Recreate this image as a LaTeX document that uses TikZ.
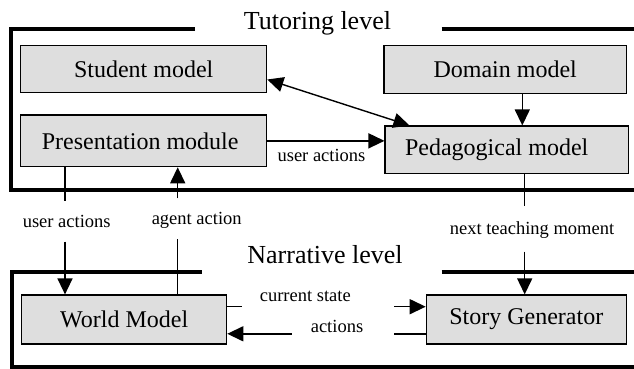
\documentclass[tikz,border=0pt]{standalone}
\usepackage{fontspec}
\setmainfont{Liberation Serif}
\usetikzlibrary{arrows.meta,calc}
\definecolor{boxgray}{RGB}{222,222,222}
\tikzset{
  box/.style={draw=black, fill=boxgray, line width=1.2pt, inner sep=0pt,
    font=\fontsize{24}{24}\selectfont},
  frame/.style={line width=4pt},
  lbl/.style={font=\fontsize{18.5}{18.5}\selectfont, inner sep=0pt},
  ttl/.style={font=\fontsize{26}{26}\selectfont, inner sep=0pt, anchor=base},
  conn/.style={line width=1.4pt},
  arr/.style={conn, -{Triangle[length=16pt,width=15pt]}},
  darr/.style={conn, {Triangle[length=16pt,width=15pt]}-{Triangle[length=16pt,width=15pt]}}
}
\begin{document}
\begin{tikzpicture}[x=1pt,y=-1pt]
\useasboundingbox (0,0) rectangle (634,369);
% frames
\draw[frame] (195,29.5) -- (11,29.5) -- (11,190) -- (640,190);
\draw[frame] (441.7,29.5) -- (640,29.5);
\draw[frame] (201.7,271.7) -- (12,271.7) -- (12,367.3) -- (640,367.3);
\draw[frame] (441.7,271.7) -- (640,271.7);
\node[ttl] (tt) at (317.5,30) {Tutoring level};
\node[ttl] (nt) at (325,263.3) {Narrative level};
% boxes
\node[box, minimum width=246pt, minimum height=46.6pt] (stud) at (143.7,69) {Student model};
\node[box, minimum width=246pt, minimum height=51.7pt] (pres) at (143.7,140.85) {Presentation module\kern7pt};
\node[box, minimum width=242.3pt, minimum height=47.6pt] (dom) at (505.2,69.5) {Domain model};
\node[box, minimum width=243.3pt, minimum height=47.3pt] (ped) at (506.7,149.7) {Pedagogical model\kern20pt};
\node[box, minimum width=205pt, minimum height=49pt] (world) at (124.2,319.5) {World Model};
\node[box, minimum width=200pt, minimum height=49pt] (story) at (526.3,319.5) {Story Generator};
% labels
\node[lbl] (l1) at (321.5,155) {user actions};
\node[lbl] (l2) at (66.7,221.7) {user actions};
\node[lbl] (l3) at (196.7,220) {agent action};
\node[lbl] (l4) at (532,230) {next teaching moment};
\node[lbl] (l5) at (305.3,296.7) {current state};
\node[lbl] (l6) at (337,326.7) {actions};
% connectors
\draw[darr] ($(stud.east)+(0,10.5)$) -- ($(ped.north west)+(25,0)$);
\coordinate (dp) at ($(dom.south)+(17.1,0)$);
\draw[arr] (dp) -- (dp |- ped.north);
\draw[arr] (pres.east) -- (pres.east -| ped.west);
\coordinate (ua1) at (65,200.7);
\coordinate (ua2) at (65,241.7);
\draw[conn] (pres.south -| ua1) -- (ua1);
\draw[arr] (ua2) -- (ua2 |- world.north);
\coordinate (aa1) at (177.7,239.3);
\coordinate (aa2) at (177.7,198.3);
\draw[conn] (world.north -| aa1) -- (aa1);
\draw[arr] (aa2) -- (aa2 |- pres.south);
\coordinate (nt1) at (524.7,206);
\coordinate (nt2) at (524.7,251.7);
\draw[conn] (ped.south -| nt1) -- (nt1);
\draw[arr] (nt2) -- (nt2 |- story.north);
\coordinate (cs1) at (241.7,306.7);
\coordinate (cs2) at (394,306.7);
\draw[conn] (world.east |- cs1) -- (cs1);
\draw[arr] (cs2) -- (cs2 -| story.west);
\coordinate (ac1) at (394,333.8);
\coordinate (ac2) at (291.7,333.8);
\draw[conn] (story.west |- ac1) -- (ac1);
\draw[arr] (ac2) -- (ac2 -| world.east);
\end{tikzpicture}
\end{document}
